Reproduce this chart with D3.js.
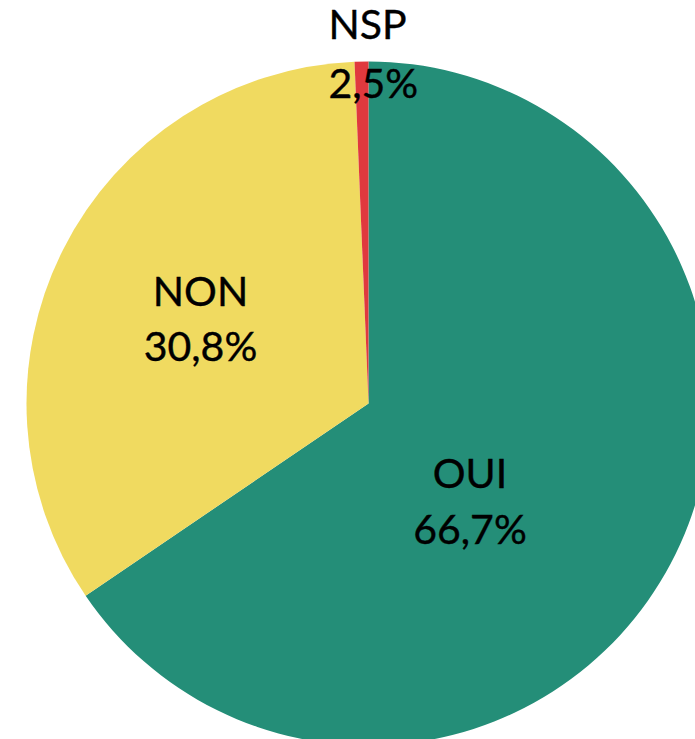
<!DOCTYPE html>
<html>
<head>
<meta charset="utf-8">
<script src="https://cdn.jsdelivr.net/npm/d3@7"></script>
<style>
html,body{margin:0;padding:0;background:#fff;overflow:hidden;}
svg{display:block;}
</style>
</head>
<body>
<svg id="chart" width="695" height="739"></svg>
<script>
// Categories, in clockwise order from 12 o'clock
const categories = ["OUI", "NON", "NSP"];
const sliceValues = [65.5, 33.85, 0.65];
// Percent labels as printed on the chart
const percentLabels = ["66,7%", "30,8%", "2,5%"];
const colors = ["#248E78", "#F0DA60", "#E0393E"];

const W = 695, H = 739;
const cx = 368.5, cy = 403.5, R = 342;
// label anchor layout (offset from pie centre), anchor type, line gap
const labelLayout = [
  {dx: 101.5, dy: 84, anchor: "middle", gap: 56},
  {dx: -168, dy: -98, anchor: "middle", gap: 55},
  {dx: -40, dy: -365, anchor: "start", gap: 59}
];

const svg = d3.select("#chart");
const g = svg.append("g").attr("transform", `translate(${cx},${cy})`);

const pie = d3.pie().sort(null).startAngle(0).endAngle(2 * Math.PI);
const arcs = pie(sliceValues);
const arc = d3.arc().innerRadius(0).outerRadius(R);

g.selectAll("path.slice")
  .data(arcs)
  .join("path")
  .attr("class", "slice")
  .attr("d", arc)
  .attr("fill", (d, i) => colors[i]);

const lbl = g.selectAll("text.lbl")
  .data(categories)
  .join("text")
  .attr("class", "lbl")
  .attr("x", (d, i) => labelLayout[i].dx)
  .attr("y", (d, i) => labelLayout[i].dy)
  .attr("text-anchor", (d, i) => labelLayout[i].anchor)
  .attr("font-family", "Lato, 'Open Sans', sans-serif")
  .attr("font-size", 41)
  .attr("fill", "#000")
  .attr("stroke", "#000")
  .attr("stroke-width", 0.4);

lbl.append("tspan").attr("x", (d, i) => labelLayout[i].dx).text(d => d);
lbl.append("tspan").attr("x", (d, i) => labelLayout[i].dx).attr("dy", (d, i) => labelLayout[i].gap).text((d, i) => percentLabels[i]);
</script>
</body>
</html>
